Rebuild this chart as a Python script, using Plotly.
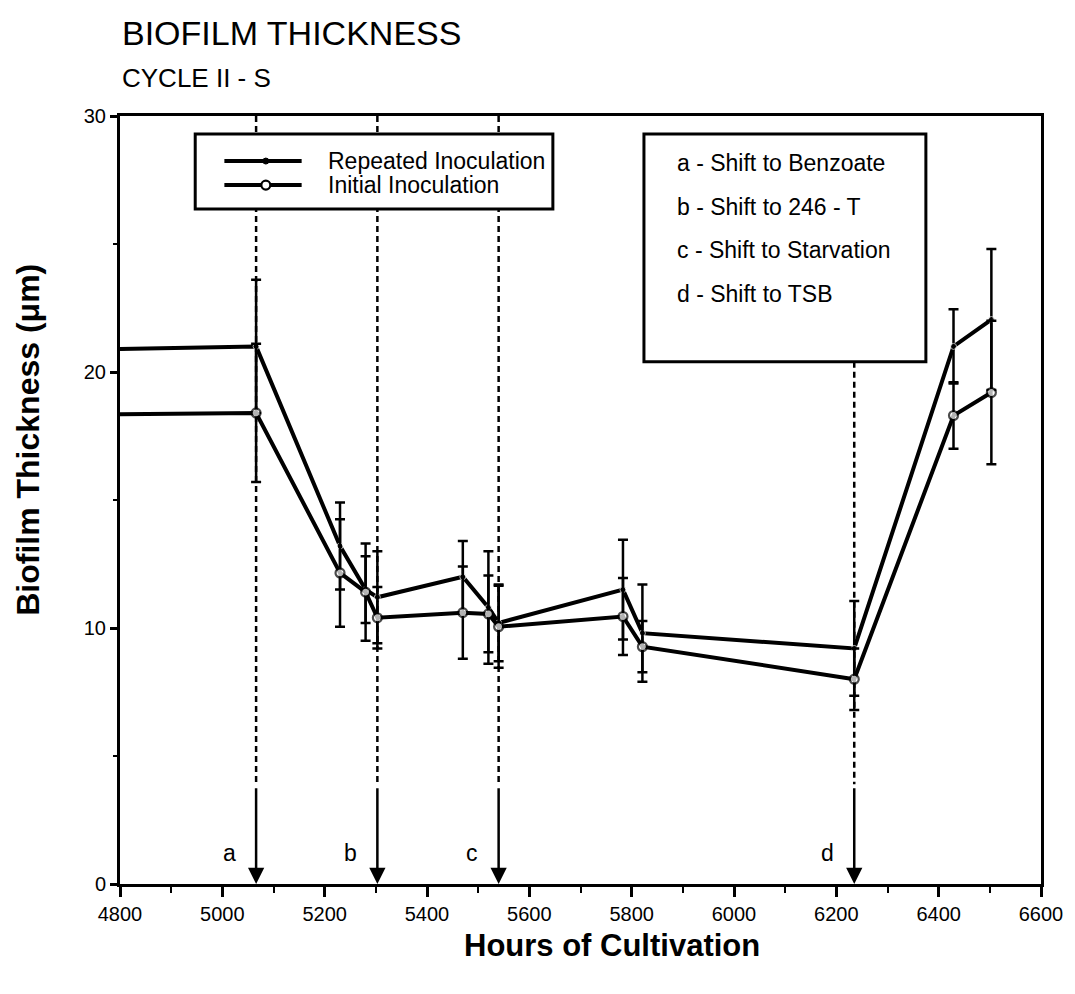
import plotly.graph_objects as go

# ---------------- data ----------------
hours = [4800, 5066, 5230, 5280, 5303, 5470, 5520, 5540, 5783, 5821, 6235, 6429, 6503]
repeated = [20.9, 21.0, 13.2, 11.5, 11.2, 12.0, 10.8, 10.2, 11.5, 9.8, 9.2, 21.0, 22.05]
repeated_err = [None, 2.6, 1.7, 1.3, 1.8, 1.4, 2.2, 1.5, 1.95, 1.9, 1.85, 1.45, 2.75]
initial = [18.35, 18.4, 12.15, 11.4, 10.4, 10.6, 10.55, 10.05, 10.45, 9.27, 8.0, 18.3, 19.2]
initial_err = [None, 2.7, 2.1, 1.9, 1.2, 1.8, 1.5, 1.6, 1.5, 1.0, 1.2, 1.3, 2.8]

event_hours = [5066, 5303, 5540, 6235]
event_letters = ["a", "b", "c", "d"]
event_texts = ["a - Shift to Benzoate", "b - Shift to 246 - T",
               "c - Shift to Starvation", "d - Shift to TSB"]
series_names = ["Repeated Inoculation", "Initial Inoculation"]

x_ticks = [4800, 5000, 5200, 5400, 5600, 5800, 6000, 6200, 6400, 6600]
y_ticks = [0, 10, 20, 30]

FONT = "Liberation Sans, Arial, Helvetica, sans-serif"

fig = go.Figure()

rep_sizes = [0] + [6] * (len(hours) - 1)
ini_sizes = [0] + [9] * (len(hours) - 1)

fig.add_trace(go.Scatter(
    x=hours, y=repeated, mode="lines+markers", name=series_names[0],
    line=dict(color="black", width=4),
    marker=dict(color="black", size=rep_sizes, symbol="circle"),
    error_y=dict(type="data", array=repeated_err, visible=True,
                 color="black", thickness=2.5, width=5),
    showlegend=False, cliponaxis=False,
))
fig.add_trace(go.Scatter(
    x=hours, y=initial, mode="lines", name=series_names[1],
    line=dict(color="black", width=4),
    error_y=dict(type="data", array=initial_err, visible=True,
                 color="black", thickness=2.5, width=5),
    showlegend=False, cliponaxis=False,
))
# open circle markers for the initial series, drawn on top of the error bars
fig.add_trace(go.Scatter(
    x=hours, y=initial, mode="markers", name=series_names[1],
    marker=dict(color="white", size=ini_sizes, symbol="circle",
                line=dict(color="black", width=2.2)),
    showlegend=False, cliponaxis=False, hoverinfo="skip",
))

shapes = []
annotations = []

# event dashed lines and arrows
dash_tops = [30, 30, 30, 20.4]
for xe, top, letter in zip(event_hours, dash_tops, event_letters):
    shapes.append(dict(type="line", xref="x", yref="y", x0=xe, x1=xe, y0=top, y1=3.9,
                       line=dict(color="black", width=2.5, dash="6px,4px"), layer="below"))
    annotations.append(dict(x=xe, y=0, ax=xe, ay=3.8, xref="x", yref="y",
                            axref="x", ayref="y", text="", showarrow=True,
                            arrowhead=2, arrowsize=1.3, arrowwidth=2.5,
                            arrowcolor="black", standoff=0))
    annotations.append(dict(x=xe, y=1.2, xref="x", yref="y", text=letter,
                            showarrow=False, xshift=-27,
                            font=dict(family=FONT, size=23, color="black")))

# legend box 1 (series)
shapes.append(dict(type="rect", xref="x", yref="y", x0=4947, x1=5646, y0=26.37, y1=29.3,
                   line=dict(color="black", width=3), fillcolor="white", layer="above"))
leg_y = [28.24, 27.3]
for i, ly in enumerate(leg_y):
    shapes.append(dict(type="line", xref="x", yref="y", x0=5004, x1=5155, y0=ly, y1=ly,
                       line=dict(color="black", width=4), layer="above"))
    if i == 0:
        shapes.append(dict(type="circle", xref="x", yref="y", xsizemode="pixel",
                           ysizemode="pixel", xanchor=5085, yanchor=ly,
                           x0=-3, x1=3, y0=-3, y1=3, fillcolor="black",
                           line=dict(color="black", width=1), layer="above"))
    else:
        shapes.append(dict(type="circle", xref="x", yref="y", xsizemode="pixel",
                           ysizemode="pixel", xanchor=5085, yanchor=ly,
                           x0=-4.5, x1=4.5, y0=-4.5, y1=4.5, fillcolor="white",
                           line=dict(color="black", width=2.2), layer="above"))
    annotations.append(dict(x=5203, y=ly, xref="x", yref="y", text=series_names[i],
                            showarrow=False, xanchor="left", yanchor="middle",
                            font=dict(family=FONT, size=23, color="black")))

# legend box 2 (events)
shapes.append(dict(type="rect", xref="x", yref="y", x0=5824, x1=6375, y0=20.4, y1=29.3,
                   line=dict(color="black", width=3), fillcolor="white", layer="above"))
ev_y = [28.16, 26.45, 24.77, 23.05]
for t, ey in zip(event_texts, ev_y):
    annotations.append(dict(x=5884, y=ey, xref="x", yref="y", text=t,
                            showarrow=False, xanchor="left", yanchor="middle",
                            font=dict(family=FONT, size=23, color="black")))

# titles
annotations.append(dict(x=0, y=1.108, xref="paper", yref="paper", text="BIOFILM THICKNESS",
                        showarrow=False, xanchor="left", yanchor="middle",
                        font=dict(family=FONT, size=34, color="black")))
annotations.append(dict(x=0, y=1.049, xref="paper", yref="paper", text="CYCLE II - S",
                        showarrow=False, xanchor="left", yanchor="middle",
                        font=dict(family=FONT, size=26, color="black")))
annotations.append(dict(x=0.534, y=-0.0807, xref="paper", yref="paper",
                        text="<b>Hours of Cultivation</b>",
                        showarrow=False, xanchor="center", yanchor="middle",
                        font=dict(family=FONT, size=31, color="black")))
annotations.append(dict(x=-0.1002, y=0.578, xref="paper", yref="paper",
                        text="<b>Biofilm Thickness (μm)</b>", textangle=-90,
                        showarrow=False, xanchor="center", yanchor="middle",
                        font=dict(family=FONT, size=32, color="black")))

fig.update_layout(
    width=1075, height=994,
    margin=dict(l=120, r=27, t=116, b=110),
    paper_bgcolor="white", plot_bgcolor="white",
    shapes=shapes, annotations=annotations,
    font=dict(family=FONT, color="black"),
    showlegend=False,
)
fig.update_xaxes(
    range=[4800, 6600], tickvals=x_ticks, ticktext=[str(v) for v in x_ticks],
    ticks="outside", ticklen=10, tickwidth=2.5, tickcolor="black",
    minor=dict(dtick=100, tick0=4800, ticks="outside", ticklen=6, tickwidth=2, tickcolor="black"),
    showline=True, linewidth=3, linecolor="black", mirror=True,
    showgrid=False, zeroline=False,
    tickfont=dict(family=FONT, size=20, color="black"),
)
fig.update_yaxes(
    range=[0, 30], tickvals=y_ticks, ticktext=[str(v) for v in y_ticks],
    ticks="outside", ticklen=7, tickwidth=2.5, tickcolor="black",
    minor=dict(dtick=5, tick0=0, ticks="outside", ticklen=4, tickwidth=2, tickcolor="black"),
    showline=True, linewidth=3, linecolor="black", mirror=True,
    showgrid=False, zeroline=False,
    tickfont=dict(family=FONT, size=20, color="black"),
)

fig.write_html("out.html")
